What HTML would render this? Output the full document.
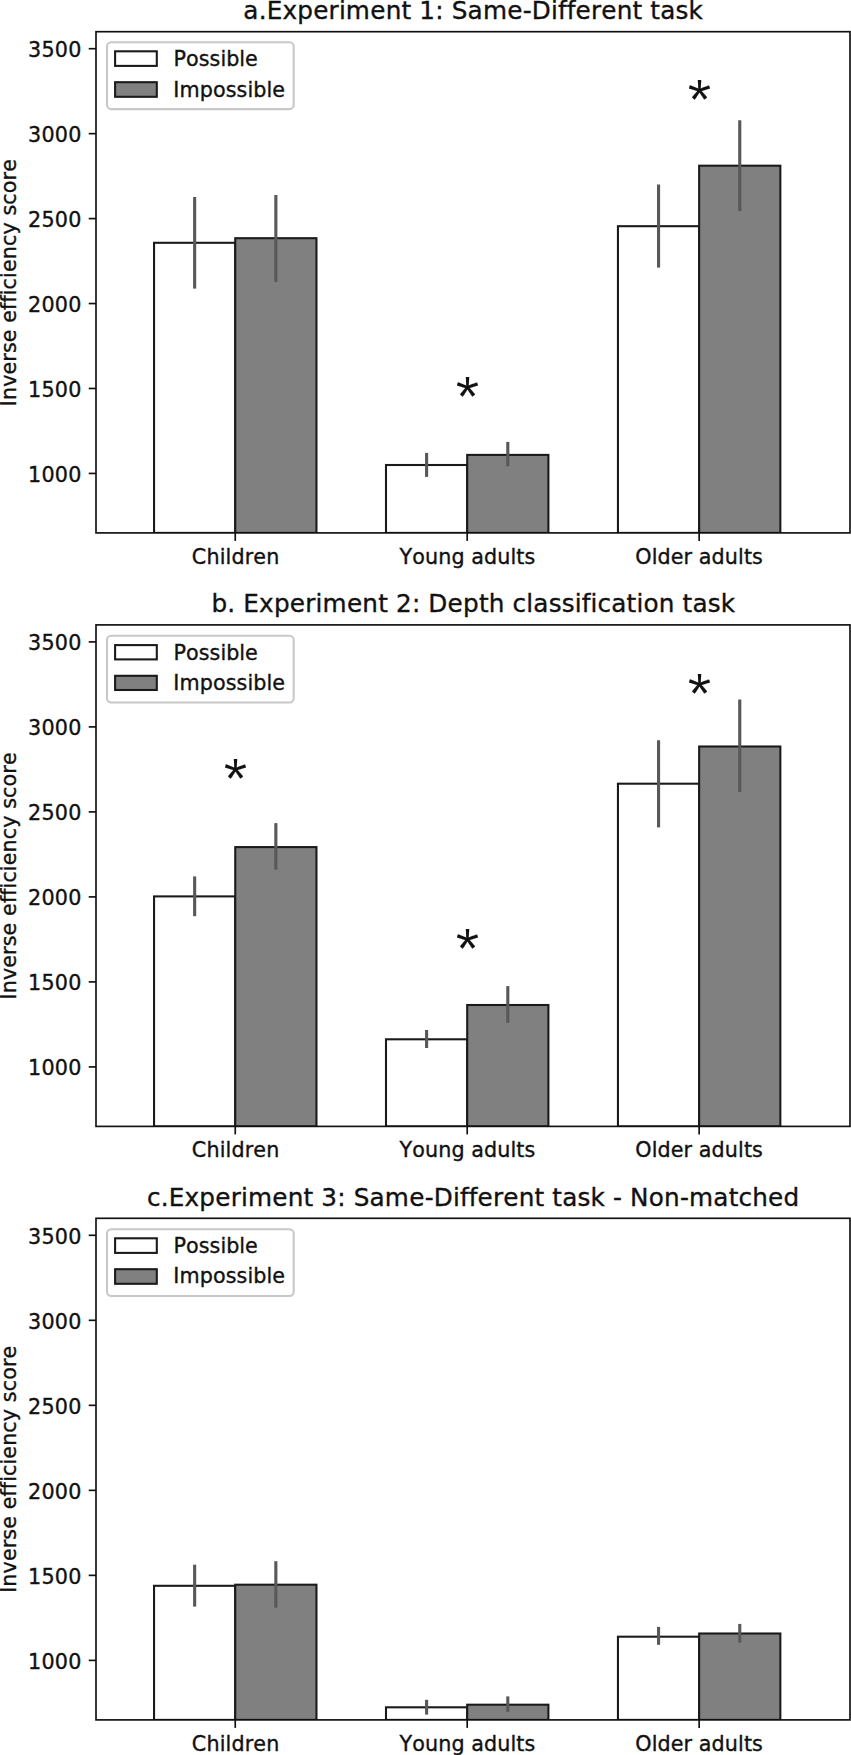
<!DOCTYPE html>
<html lang="en"><head><meta charset="utf-8"><title>Inverse efficiency score by experiment</title>
<style>html,body{margin:0;padding:0;background:#fff}body{width:851px;height:1755px;overflow:hidden}svg{display:block}text{font-family:"DejaVu Sans","Liberation Sans",sans-serif;fill:#111;stroke:#111;stroke-width:.35px;font-variant-ligatures:none;font-kerning:none;white-space:pre}.t{font-size:24.7px}.l{font-size:20.7px}.sp{fill:none;stroke:#111;stroke-width:1.67}.tk{stroke:#111;stroke-width:1.67}.bw{fill:#fff;stroke:#1a1a1a;stroke-width:2.08}.bg{fill:#808080;stroke:#1a1a1a;stroke-width:2.08}.er{stroke:#585858;stroke-width:3.12}.lg{fill:#fff;fill-opacity:.8;stroke:#c8c8c8;stroke-width:2.08}.st{font-family:"NanumGothic","Liberation Sans",sans-serif;font-size:53px;stroke-width:.15px;stroke-linejoin:round}</style></head><body>
<svg width="851" height="1755" viewBox="0 0 851 1755">
<rect width="851" height="1755" fill="#fff"/>
<g>
<text class="t" x="243.37 258.71 266.67 282.5 297.32 313.21 328.62 338.92 345.87 370.27 385.67 401.54 411.36 419.32 435.26 443.69 451.65 467.55 482.9 507.29 522.7 531.73 551.02 557.97 566.79 575.6 591.01 601.31 616.71 632.59 642.4 650.36 660.18 675.53 688.58" y="19">a.Experiment 1: Same-Different task</text>
<clipPath id="c0"><rect x="96" y="31.7" width="754" height="501.2"/></clipPath>
<g clip-path="url(#c0)">
<rect class="bw" x="154.05" y="242.8" width="81.2" height="290.1"/>
<rect class="bg" x="235.25" y="238.2" width="81.2" height="294.7"/>
<line class="er" x1="194.65" y1="197.1" x2="194.65" y2="288.6"/>
<line class="er" x1="275.85" y1="194.9" x2="275.85" y2="281.9"/>
<rect class="bw" x="386" y="465" width="81.2" height="67.9"/>
<rect class="bg" x="467.2" y="454.9" width="81.2" height="78"/>
<line class="er" x1="426.6" y1="452.9" x2="426.6" y2="476.9"/>
<line class="er" x1="507.8" y1="441.9" x2="507.8" y2="466.3"/>
<rect class="bw" x="617.95" y="226.2" width="81.2" height="306.7"/>
<rect class="bg" x="699.15" y="165.7" width="81.2" height="367.2"/>
<line class="er" x1="658.55" y1="184.6" x2="658.55" y2="267.6"/>
<line class="er" x1="739.75" y1="120.3" x2="739.75" y2="211.1"/>
</g>
<line class="tk" x1="88.71" y1="473.44" x2="96" y2="473.44"/>
<text class="l" x="28.1 41.46 54.82 68.18" y="482">1000</text>
<line class="tk" x1="88.71" y1="388.49" x2="96" y2="388.49"/>
<text class="l" x="28.1 41.46 54.82 68.18" y="397">1500</text>
<line class="tk" x1="88.71" y1="303.54" x2="96" y2="303.54"/>
<text class="l" x="28.1 41.46 54.82 68.18" y="312">2000</text>
<line class="tk" x1="88.71" y1="218.59" x2="96" y2="218.59"/>
<text class="l" x="28.1 41.46 54.82 68.18" y="227">2500</text>
<line class="tk" x1="88.71" y1="133.64" x2="96" y2="133.64"/>
<text class="l" x="28.1 41.46 54.82 68.18" y="142">3000</text>
<line class="tk" x1="88.71" y1="48.69" x2="96" y2="48.69"/>
<text class="l" x="28.1 41.46 54.82 68.18" y="57">3500</text>
<line class="tk" x1="235.25" y1="532.9" x2="235.25" y2="540.9"/>
<text class="l" x="191.72 206.39 219.7 225.54 231.38 244.71 253.35 266.27" y="564">Children</text>
<line class="tk" x1="467.2" y1="532.9" x2="467.2" y2="540.9"/>
<text class="l" x="399.47 412.21 424.97 438.19 451.41 464.65 471.28 484.06 497.29 510.51 516.31 524.48" y="564">Young adults</text>
<line class="tk" x1="699.15" y1="532.9" x2="699.15" y2="540.9"/>
<text class="l" x="635.25 651.69 657.49 670.74 683.59 692.17 698.81 711.61 724.86 738.1 743.9 752.08" y="564">Older adults</text>
<rect class="sp" x="96" y="31.7" width="754" height="501.2"/>
<g transform="translate(15.9 403.55) rotate(-90)"><text class="l" x="-2.7 3.46 16.69 29.04 41.89 50.47 61.34 74.19 80.82 93.67 101.02 108.37 114.17 125.64 131.44 144.29 157.52 169 181.35 187.99 198.86 210.34 223.11 231.7" y="0">Inverse efficiency score</text></g>
<rect class="lg" x="107" y="42.3" width="186.7" height="66.8" rx="4.2" ry="4.2"/>
<rect class="bw" x="115.1" y="51.3" width="41.7" height="14.6"/>
<rect class="bg" x="115.1" y="82.2" width="41.7" height="14.6"/>
<text class="l" x="173.54 186.06 198.76 209.57 220.39 226.15 239.33 245.1" y="66">Possible</text>
<text class="l" x="173.37 179.51 199.8 213.02 225.76 236.61 247.46 253.25 266.47 272.26" y="97">Impossible</text>
</g>
<g>
<text class="t" x="211.45 227.35 235.31 243.27 259.1 273.93 289.83 305.24 315.54 322.5 346.9 362.31 378.18 388 395.97 411.9 420.34 428.31 447.59 463.01 478.91 488.73 504.6 512.57 526.34 533.3 548.65 561.7 574.75 581.71 590.53 597.49 611.26 626.61 636.43 643.39 658.72 674.59 682.55 692.38 707.73 720.78" y="612">b. Experiment 2: Depth classification task</text>
<clipPath id="c1"><rect x="96" y="624.9" width="754" height="501.5"/></clipPath>
<g clip-path="url(#c1)">
<rect class="bw" x="154.05" y="896.4" width="81.2" height="230"/>
<rect class="bg" x="235.25" y="847.1" width="81.2" height="279.3"/>
<line class="er" x1="194.65" y1="876.4" x2="194.65" y2="916.2"/>
<line class="er" x1="275.85" y1="823.1" x2="275.85" y2="869.7"/>
<rect class="bw" x="386" y="1039.3" width="81.2" height="87.1"/>
<rect class="bg" x="467.2" y="1005" width="81.2" height="121.4"/>
<line class="er" x1="426.6" y1="1030.1" x2="426.6" y2="1048.1"/>
<line class="er" x1="507.8" y1="986.1" x2="507.8" y2="1022.7"/>
<rect class="bw" x="617.95" y="783.7" width="81.2" height="342.7"/>
<rect class="bg" x="699.15" y="746.5" width="81.2" height="379.9"/>
<line class="er" x1="658.55" y1="740.2" x2="658.55" y2="827.4"/>
<line class="er" x1="739.75" y1="699.4" x2="739.75" y2="792.1"/>
</g>
<line class="tk" x1="88.71" y1="1066.9" x2="96" y2="1066.9"/>
<text class="l" x="28.1 41.46 54.82 68.18" y="1075">1000</text>
<line class="tk" x1="88.71" y1="981.9" x2="96" y2="981.9"/>
<text class="l" x="28.1 41.46 54.82 68.18" y="990">1500</text>
<line class="tk" x1="88.71" y1="896.9" x2="96" y2="896.9"/>
<text class="l" x="28.1 41.46 54.82 68.18" y="905">2000</text>
<line class="tk" x1="88.71" y1="811.9" x2="96" y2="811.9"/>
<text class="l" x="28.1 41.46 54.82 68.18" y="820">2500</text>
<line class="tk" x1="88.71" y1="726.9" x2="96" y2="726.9"/>
<text class="l" x="28.1 41.46 54.82 68.18" y="735">3000</text>
<line class="tk" x1="88.71" y1="641.9" x2="96" y2="641.9"/>
<text class="l" x="28.1 41.46 54.82 68.18" y="650">3500</text>
<line class="tk" x1="235.25" y1="1126.4" x2="235.25" y2="1134.4"/>
<text class="l" x="191.72 206.39 219.7 225.54 231.38 244.71 253.35 266.27" y="1157">Children</text>
<line class="tk" x1="467.2" y1="1126.4" x2="467.2" y2="1134.4"/>
<text class="l" x="399.47 412.21 424.97 438.19 451.41 464.65 471.28 484.06 497.29 510.51 516.31 524.48" y="1157">Young adults</text>
<line class="tk" x1="699.15" y1="1126.4" x2="699.15" y2="1134.4"/>
<text class="l" x="635.25 651.69 657.49 670.74 683.59 692.17 698.81 711.61 724.86 738.1 743.9 752.08" y="1157">Older adults</text>
<rect class="sp" x="96" y="624.9" width="754" height="501.5"/>
<g transform="translate(15.9 996.75) rotate(-90)"><text class="l" x="-2.7 3.46 16.69 29.04 41.89 50.47 61.34 74.19 80.82 93.67 101.02 108.37 114.17 125.64 131.44 144.29 157.52 169 181.35 187.99 198.86 210.34 223.11 231.7" y="0">Inverse efficiency score</text></g>
<rect class="lg" x="107" y="635.7" width="186.7" height="66.8" rx="4.2" ry="4.2"/>
<rect class="bw" x="115.1" y="645.1" width="41.7" height="14.3"/>
<rect class="bg" x="115.1" y="675.8" width="41.7" height="14.2"/>
<text class="l" x="173.54 186.06 198.76 209.57 220.39 226.15 239.33 245.1" y="660">Possible</text>
<text class="l" x="173.37 179.51 199.8 213.02 225.76 236.61 247.46 253.25 266.47 272.26" y="690">Impossible</text>
</g>
<g>
<text class="t" x="146.97 160.74 168.69 184.51 199.33 215.22 230.63 240.92 247.88 272.27 287.67 303.54 313.36 321.31 337.24 345.68 353.64 369.53 384.87 409.26 424.67 433.7 452.98 459.94 468.75 477.57 492.97 503.26 518.67 534.53 544.35 552.31 562.13 577.47 590.51 605.01 612.97 622.01 629.96 648.69 664.01 679.88 688.91 713.3 728.65 738.46 752.23 768.1 783.5" y="1206">c.Experiment 3: Same-Different task - Non-matched</text>
<clipPath id="c2"><rect x="96" y="1218.3" width="754" height="501.6"/></clipPath>
<g clip-path="url(#c2)">
<rect class="bw" x="154.05" y="1585.8" width="81.2" height="134.1"/>
<rect class="bg" x="235.25" y="1584.7" width="81.2" height="135.2"/>
<line class="er" x1="194.65" y1="1564.7" x2="194.65" y2="1606.6"/>
<line class="er" x1="275.85" y1="1561.2" x2="275.85" y2="1607.7"/>
<rect class="bw" x="386" y="1707.3" width="81.2" height="12.6"/>
<rect class="bg" x="467.2" y="1704.7" width="81.2" height="15.2"/>
<line class="er" x1="426.6" y1="1699.8" x2="426.6" y2="1714.6"/>
<line class="er" x1="507.8" y1="1696.4" x2="507.8" y2="1711.8"/>
<rect class="bw" x="617.95" y="1636.7" width="81.2" height="83.2"/>
<rect class="bg" x="699.15" y="1633.5" width="81.2" height="86.4"/>
<line class="er" x1="658.55" y1="1626.9" x2="658.55" y2="1644.8"/>
<line class="er" x1="739.75" y1="1623.9" x2="739.75" y2="1642.7"/>
</g>
<line class="tk" x1="88.71" y1="1660.39" x2="96" y2="1660.39"/>
<text class="l" x="28.1 41.46 54.82 68.18" y="1669">1000</text>
<line class="tk" x1="88.71" y1="1575.37" x2="96" y2="1575.37"/>
<text class="l" x="28.1 41.46 54.82 68.18" y="1584">1500</text>
<line class="tk" x1="88.71" y1="1490.35" x2="96" y2="1490.35"/>
<text class="l" x="28.1 41.46 54.82 68.18" y="1499">2000</text>
<line class="tk" x1="88.71" y1="1405.34" x2="96" y2="1405.34"/>
<text class="l" x="28.1 41.46 54.82 68.18" y="1414">2500</text>
<line class="tk" x1="88.71" y1="1320.32" x2="96" y2="1320.32"/>
<text class="l" x="28.1 41.46 54.82 68.18" y="1329">3000</text>
<line class="tk" x1="88.71" y1="1235.3" x2="96" y2="1235.3"/>
<text class="l" x="28.1 41.46 54.82 68.18" y="1244">3500</text>
<line class="tk" x1="235.25" y1="1719.9" x2="235.25" y2="1727.9"/>
<text class="l" x="191.72 206.39 219.7 225.54 231.38 244.71 253.35 266.27" y="1751">Children</text>
<line class="tk" x1="467.2" y1="1719.9" x2="467.2" y2="1727.9"/>
<text class="l" x="399.47 412.21 424.97 438.19 451.41 464.65 471.28 484.06 497.29 510.51 516.31 524.48" y="1751">Young adults</text>
<line class="tk" x1="699.15" y1="1719.9" x2="699.15" y2="1727.9"/>
<text class="l" x="635.25 651.69 657.49 670.74 683.59 692.17 698.81 711.61 724.86 738.1 743.9 752.08" y="1751">Older adults</text>
<rect class="sp" x="96" y="1218.3" width="754" height="501.6"/>
<g transform="translate(15.9 1590.15) rotate(-90)"><text class="l" x="-2.7 3.46 16.69 29.04 41.89 50.47 61.34 74.19 80.82 93.67 101.02 108.37 114.17 125.64 131.44 144.29 157.52 169 181.35 187.99 198.86 210.34 223.11 231.7" y="0">Inverse efficiency score</text></g>
<rect class="lg" x="107" y="1229.2" width="186.7" height="66.8" rx="4.2" ry="4.2"/>
<rect class="bw" x="115.1" y="1238.3" width="41.7" height="14.6"/>
<rect class="bg" x="115.1" y="1269.2" width="41.7" height="14.6"/>
<text class="l" x="173.54 186.06 198.76 209.57 220.39 226.15 239.33 245.1" y="1253">Possible</text>
<text class="l" x="173.37 179.51 199.8 213.02 225.76 236.61 247.46 253.25 266.47 272.26" y="1283">Impossible</text>
</g>
<text class="st" x="451.18" y="407.46">*</text>
<text class="st" x="683.13" y="110.31">*</text>
<text class="st" x="219.24" y="788.66">*</text>
<text class="st" x="451.18" y="958.96">*</text>
<text class="st" x="683.13" y="703.66">*</text>
</svg></body></html>
